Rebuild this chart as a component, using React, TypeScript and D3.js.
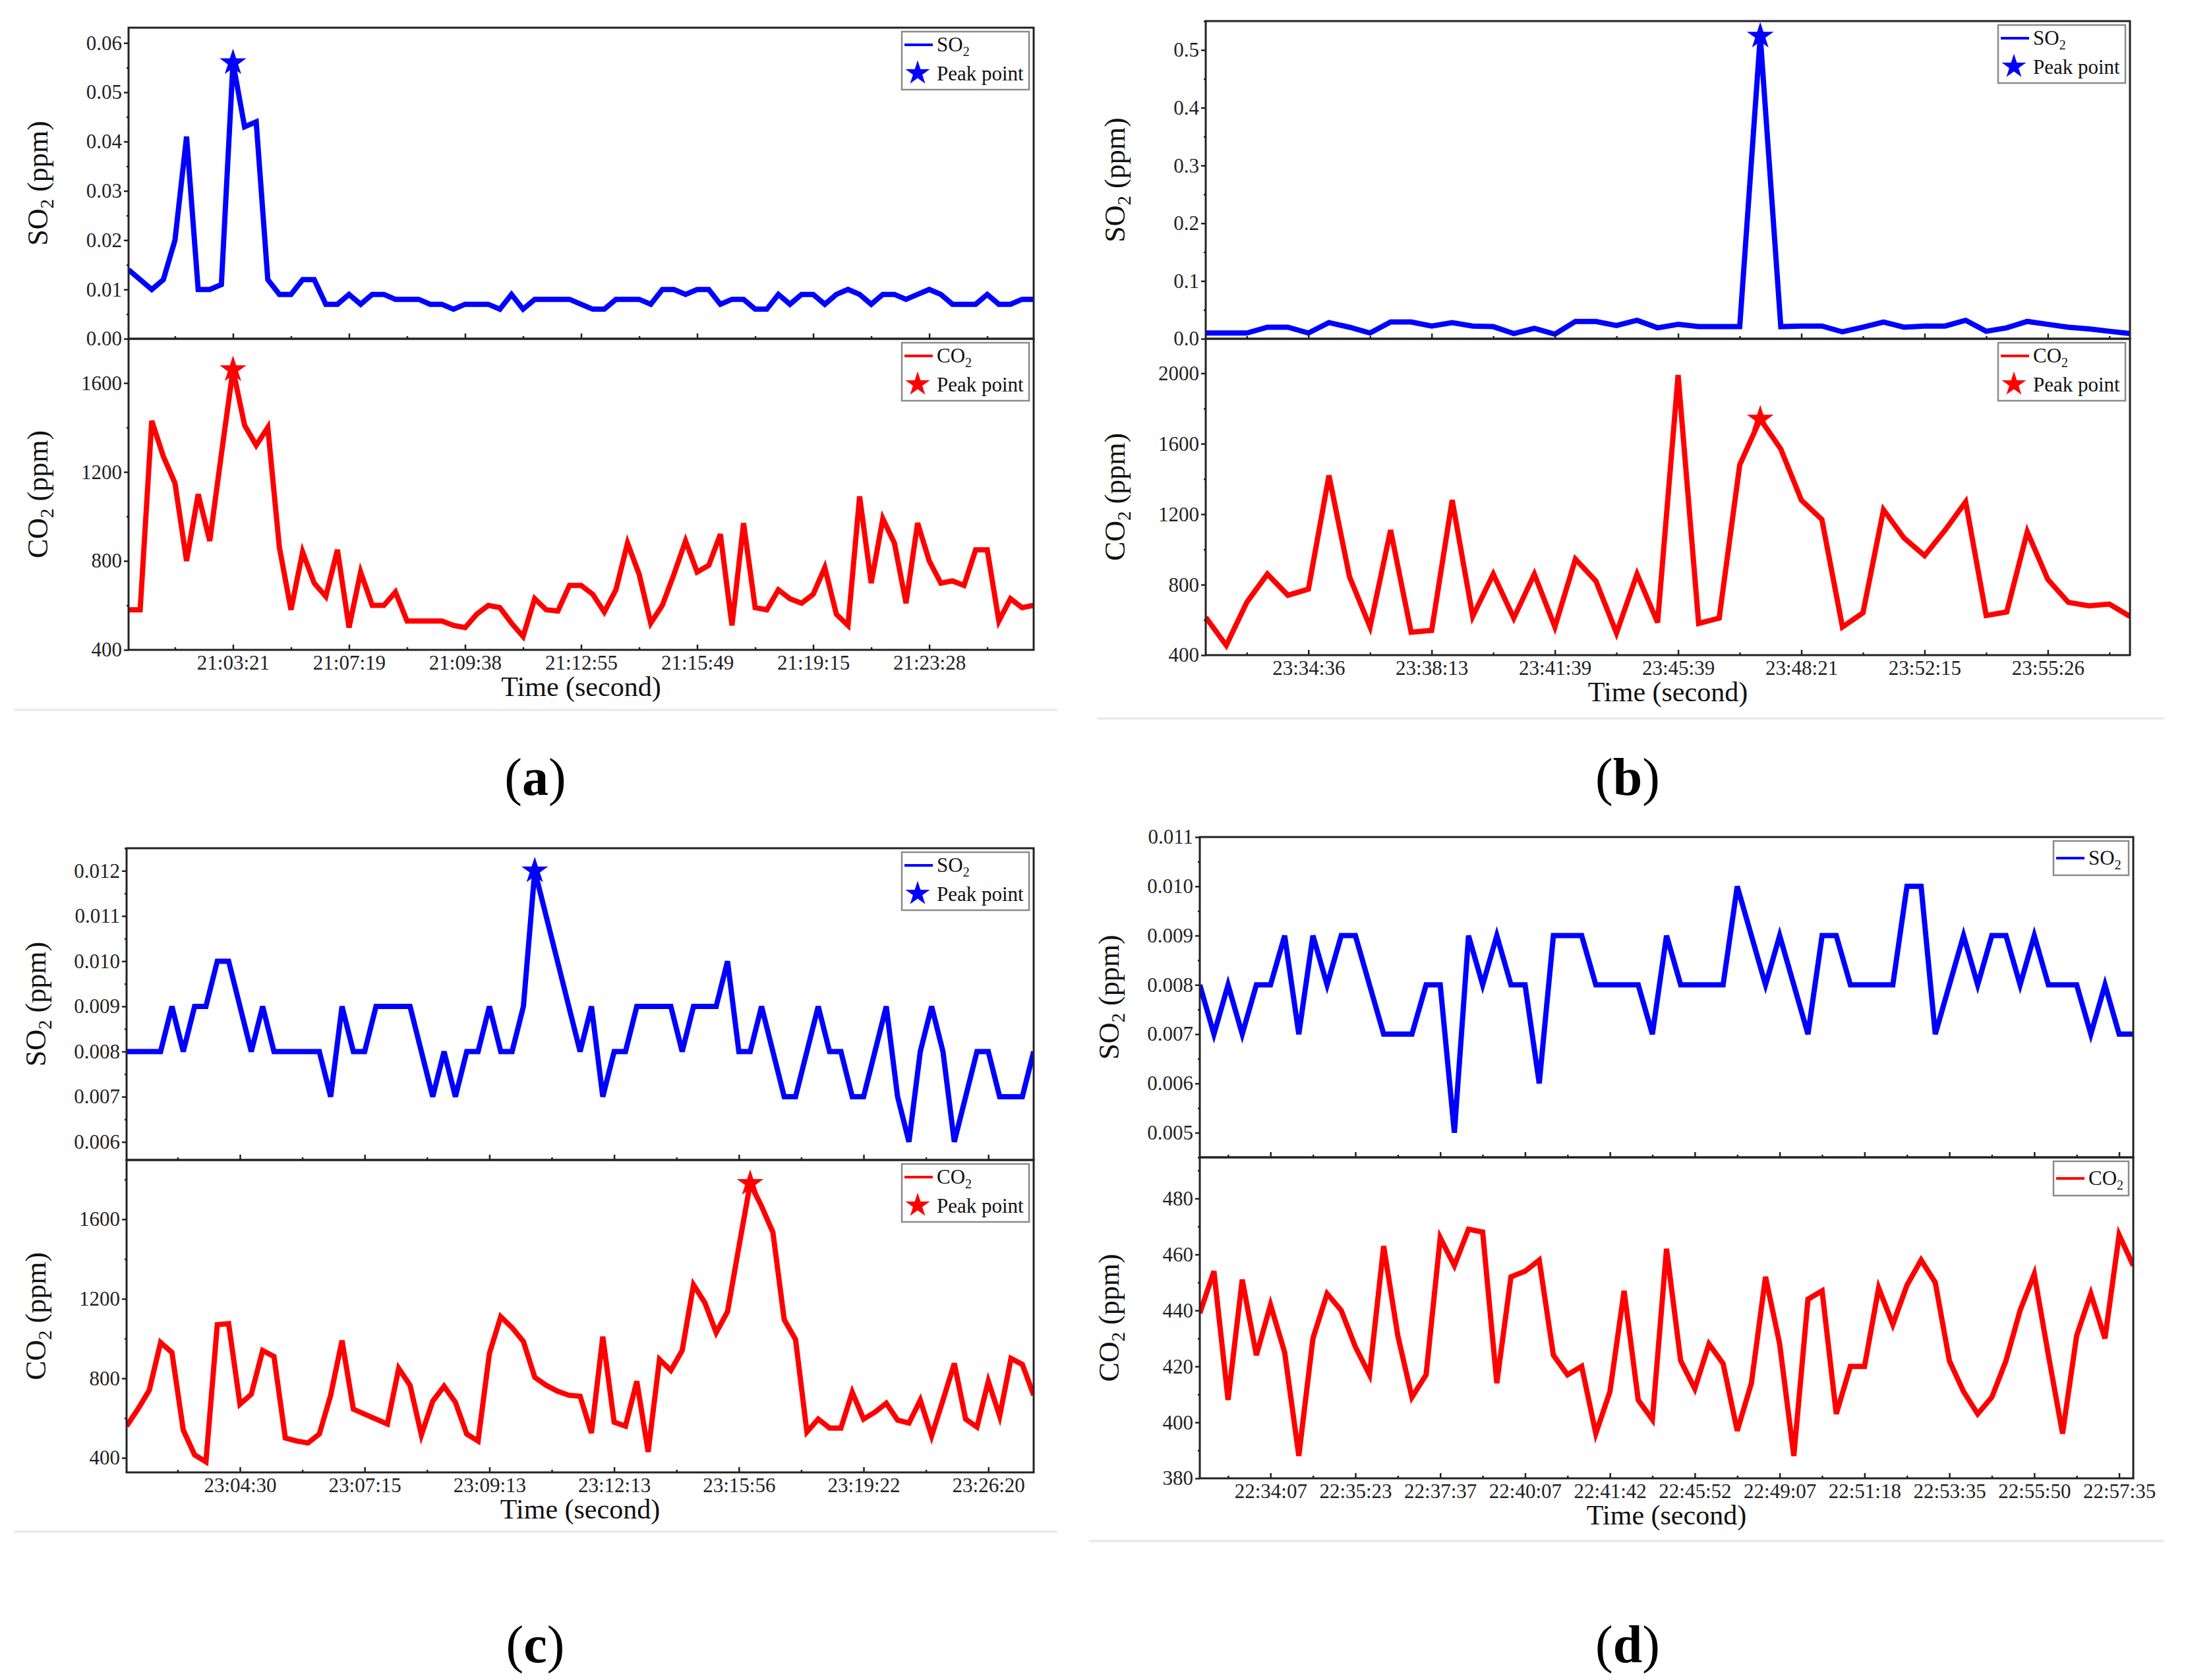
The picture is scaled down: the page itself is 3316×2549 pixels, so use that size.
import { useEffect, useRef } from 'react';
import * as d3 from 'd3';

const W = 3316;
const H = 2549;
const SERIF = '"Liberation Serif", "Times New Roman", Times, serif';
const BLUE = '#0000ff';
const RED = '#ff0000';
const INK = '#222';

// ---- panel (a) ----
const timesA = ['21:03:21', '21:07:19', '21:09:38', '21:12:55', '21:15:49', '21:19:15', '21:23:28'];
const so2A = [
  0.014, 0.012, 0.010, 0.012, 0.020, 0.041, 0.010, 0.010, 0.011, 0.056,
  0.043, 0.044, 0.012, 0.009, 0.009, 0.012, 0.012, 0.007, 0.007, 0.009,
  0.007, 0.009, 0.009, 0.008, 0.008, 0.008, 0.007, 0.007, 0.006, 0.007,
  0.007, 0.007, 0.006, 0.009, 0.006, 0.008, 0.008, 0.008, 0.008, 0.007,
  0.006, 0.006, 0.008, 0.008, 0.008, 0.007, 0.010, 0.010, 0.009, 0.010,
  0.010, 0.007, 0.008, 0.008, 0.006, 0.006, 0.009, 0.007, 0.009, 0.009,
  0.007, 0.009, 0.010, 0.009, 0.007, 0.009, 0.009, 0.008, 0.009, 0.010,
  0.009, 0.007, 0.007, 0.007, 0.009, 0.007, 0.007, 0.008, 0.008,
];
const co2A = [
  580, 580, 1430, 1270, 1150, 800, 1100, 890, 1280, 1660,
  1410, 1320, 1400, 860, 580, 840, 700, 640, 850, 500,
  750, 600, 600, 660, 530, 530, 530, 530, 510, 500,
  560, 600, 590, 520, 460, 630, 580, 575, 690, 690,
  650, 570, 670, 880, 740, 520, 600, 740, 890, 750,
  780, 920, 510, 970, 590, 580, 670, 630, 610, 650,
  770, 560, 510, 1090, 700, 990, 880, 610, 970, 800,
  700, 710, 690, 850, 850, 530, 630, 590, 600,
];
const so2TicksA = [0, 0.01, 0.02, 0.03, 0.04, 0.05, 0.06];
const co2TicksA = [400, 800, 1200, 1600];

// ---- panel (b) ----
const timesB = ['23:34:36', '23:38:13', '23:41:39', '23:45:39', '23:48:21', '23:52:15', '23:55:26'];
const so2B = [
  0.010, 0.010, 0.010, 0.020, 0.020, 0.010, 0.028, 0.020, 0.010, 0.029,
  0.029, 0.022, 0.028, 0.022, 0.021, 0.009, 0.018, 0.008, 0.030, 0.030,
  0.023, 0.032, 0.019, 0.025, 0.021, 0.021, 0.021, 0.524, 0.021, 0.022,
  0.022, 0.012, 0.020, 0.029, 0.020, 0.022, 0.022, 0.032, 0.013, 0.019,
  0.030, 0.025, 0.020, 0.017, 0.013, 0.009,
];
const co2B = [
  615, 455, 700, 860, 740, 775, 1420, 845, 560, 1110,
  530, 540, 1280, 620, 860, 610, 860, 560, 945, 820,
  525, 860, 585, 1990, 580, 610, 1480, 1740, 1570, 1280,
  1170, 560, 640, 1225, 1065, 965, 1110, 1270, 625, 645,
  1100, 830, 700, 680, 690, 620,
];
const so2TicksB = [0, 0.1, 0.2, 0.3, 0.4, 0.5];
const co2TicksB = [400, 800, 1200, 1600, 2000];

// ---- panel (c) ----
const timesC = ['23:04:30', '23:07:15', '23:09:13', '23:12:13', '23:15:56', '23:19:22', '23:26:20'];
const so2C = [
  0.008, 0.008, 0.008, 0.008, 0.009, 0.008, 0.009, 0.009, 0.010, 0.010,
  0.009, 0.008, 0.009, 0.008, 0.008, 0.008, 0.008, 0.008, 0.007, 0.009,
  0.008, 0.008, 0.009, 0.009, 0.009, 0.009, 0.008, 0.007, 0.008, 0.007,
  0.008, 0.008, 0.009, 0.008, 0.008, 0.009, 0.012, 0.011, 0.010, 0.009,
  0.008, 0.009, 0.007, 0.008, 0.008, 0.009, 0.009, 0.009, 0.009, 0.008,
  0.009, 0.009, 0.009, 0.010, 0.008, 0.008, 0.009, 0.008, 0.007, 0.007,
  0.008, 0.009, 0.008, 0.008, 0.007, 0.007, 0.008, 0.009, 0.007, 0.006,
  0.008, 0.009, 0.008, 0.006, 0.007, 0.008, 0.008, 0.007, 0.007, 0.007,
  0.008,
];
const co2C = [
  560, 645, 740, 980, 930, 540, 415, 380, 1070, 1075,
  670, 720, 940, 910, 500, 485, 475, 520, 715, 990,
  645, 620, 595, 570, 850, 765, 515, 685, 760, 680,
  520, 485, 925, 1110, 1055, 985, 805, 765, 735, 715,
  710, 525, 1010, 580, 560, 785, 430, 895, 840, 940,
  1270, 1180, 1030, 1135, 1460, 1780, 1665, 1535, 1095, 995,
  530, 595, 550, 550, 730, 595, 630, 675, 590, 575,
  690, 510, 690, 875, 595, 555, 785, 610, 900, 870,
  715,
];
const so2TicksC = [0.006, 0.007, 0.008, 0.009, 0.01, 0.011, 0.012];
const co2TicksC = [400, 800, 1200, 1600];

// ---- panel (d) ----
const timesD = [
  '22:34:07', '22:35:23', '22:37:37', '22:40:07', '22:41:42', '22:45:52',
  '22:49:07', '22:51:18', '22:53:35', '22:55:50', '22:57:35',
];
const so2D = [
  0.008, 0.007, 0.008, 0.007, 0.008, 0.008, 0.009, 0.007, 0.009, 0.008,
  0.009, 0.009, 0.008, 0.007, 0.007, 0.007, 0.008, 0.008, 0.005, 0.009,
  0.008, 0.009, 0.008, 0.008, 0.006, 0.009, 0.009, 0.009, 0.008, 0.008,
  0.008, 0.008, 0.007, 0.009, 0.008, 0.008, 0.008, 0.008, 0.010, 0.009,
  0.008, 0.009, 0.008, 0.007, 0.009, 0.009, 0.008, 0.008, 0.008, 0.008,
  0.010, 0.010, 0.007, 0.008, 0.009, 0.008, 0.009, 0.009, 0.008, 0.009,
  0.008, 0.008, 0.008, 0.007, 0.008, 0.007, 0.007,
];
const co2D = [
  439, 454, 408, 451, 424, 442, 425, 388, 430, 446,
  440, 427, 417, 463, 431, 409, 417, 466, 456, 469,
  468, 414, 452, 454, 458, 424, 417, 420, 396, 411,
  447, 408, 401, 462, 422, 412, 428, 421, 397, 414,
  452, 428, 388, 444, 447, 403, 420, 420, 448, 435,
  449, 458, 450, 422, 411, 403, 409, 422, 440, 453,
  424, 396, 431, 446, 430, 467, 456,
];
const so2TicksD = [0.005, 0.006, 0.007, 0.008, 0.009, 0.01, 0.011];
const co2TicksD = [380, 400, 420, 440, 460, 480];

interface Panel {
  tag: string;
  times: string[];
  firstTick: number;
  tickStep: number;
  so2: number[];
  co2: number[];
  so2Domain: [number, number];
  co2Domain: [number, number];
  so2Ticks: number[];
  co2Ticks: number[];
  so2Minor: number;
  co2Minor: number;
  so2Fmt: string;
  so2Peak: number | null;
  co2Peak: number | null;
  box: { left: number; right: number; top: number; mid: number; bottom: number };
  tagX: number;
  tagY: number;
  sep: [number, number, number];
}

const PANELS: Panel[] = [
  {
    tag: 'a', times: timesA, firstTick: 9, tickStep: 10, so2: so2A, co2: co2A,
    so2Domain: [0, 0.0631], co2Domain: [400, 1799],
    so2Ticks: so2TicksA, co2Ticks: co2TicksA, so2Minor: 0.005, co2Minor: 200, so2Fmt: '.2f',
    so2Peak: 9, co2Peak: 9,
    box: { left: 195, right: 1568, top: 42, mid: 514, bottom: 986 },
    tagX: 812, tagY: 1206, sep: [21, 1604, 1077],
  },
  {
    tag: 'b', times: timesB, firstTick: 5, tickStep: 6, so2: so2B, co2: co2B,
    so2Domain: [0, 0.55], co2Domain: [400, 2196],
    so2Ticks: so2TicksB, co2Ticks: co2TicksB, so2Minor: 0.05, co2Minor: 200, so2Fmt: '.1f',
    so2Peak: 27, co2Peak: 27,
    box: { left: 1829, right: 3231, top: 32, mid: 514, bottom: 994 },
    tagX: 2469, tagY: 1206, sep: [1664, 3283, 1090],
  },
  {
    tag: 'c', times: timesC, firstTick: 10, tickStep: 11, so2: so2C, co2: co2C,
    so2Domain: [0.0056, 0.0125], co2Domain: [327, 1898],
    so2Ticks: so2TicksC, co2Ticks: co2TicksC, so2Minor: 0.0005, co2Minor: 200, so2Fmt: '.3f',
    so2Peak: 36, co2Peak: 55,
    box: { left: 192, right: 1568, top: 1287, mid: 1760, bottom: 2234 },
    tagX: 812, tagY: 2522, sep: [21, 1604, 2324],
  },
  {
    tag: 'd', times: timesD, firstTick: 5, tickStep: 6, so2: so2D, co2: co2D,
    so2Domain: [0.0045, 0.011], co2Domain: [380, 494.7],
    so2Ticks: so2TicksD, co2Ticks: co2TicksD, so2Minor: 0.0005, co2Minor: 10, so2Fmt: '.3f',
    so2Peak: null, co2Peak: null,
    box: { left: 1820, right: 3236, top: 1270, mid: 1756, bottom: 2243 },
    tagX: 2469, tagY: 2522, sep: [1652, 3283, 2338],
  },
];

function minorValues(domain: [number, number], majors: number[], step: number) {
  const ks = d3.range(Math.ceil(domain[0] / step - 1e-9), Math.floor(domain[1] / step + 1e-9) + 1);
  return ks
    .map((k) => k * step)
    .filter((v) => !majors.some((m) => Math.abs(m - v) < step / 10));
}

function styleAxis(g: any, size: number) {
  g.select('.domain').remove();
  g.attr('font-family', SERIF).attr('font-size', size).attr('color', INK);
  g.selectAll('line').attr('stroke-width', 2.5);
  g.selectAll('text').attr('fill', INK);
}

function drawPanel(root: any, p: Panel) {
  const { left, right, top, mid, bottom } = p.box;
  const n = p.so2.length;
  const x = d3.scaleLinear().domain([0, n - 1]).range([left, right]);
  const majorX = p.times.map((_, i) => p.firstTick + i * p.tickStep);
  const minorX = d3.range(p.firstTick - p.tickStep / 2, n - 1 + 1e-6, p.tickStep);
  const labelOf = new Map(majorX.map((v, i) => [v, p.times[i]]));

  root.append('line')
    .attr('x1', p.sep[0]).attr('x2', p.sep[1])
    .attr('y1', p.sep[2]).attr('y2', p.sep[2])
    .attr('stroke', '#ececec').attr('stroke-width', 4);

  const subs = [
    {
      key: 'so2', values: p.so2, domain: p.so2Domain, y0: mid, y1: top, color: BLUE,
      ticks: p.so2Ticks, minor: p.so2Minor, fmt: p.so2Fmt, peak: p.so2Peak, name: 'SO', labels: false,
    },
    {
      key: 'co2', values: p.co2, domain: p.co2Domain, y0: bottom, y1: mid, color: RED,
      ticks: p.co2Ticks, minor: p.co2Minor, fmt: 'd', peak: p.co2Peak, name: 'CO', labels: true,
    },
  ];

  subs.forEach((s) => {
    const y = d3.scaleLinear().domain(s.domain).range([s.y0, s.y1]);
    const clipId = `clip-${p.tag}-${s.key}`;
    root.append('clipPath').attr('id', clipId)
      .append('rect')
      .attr('x', left).attr('y', s.y1)
      .attr('width', right - left).attr('height', s.y0 - s.y1);

    const line = d3.line<number>().x((_, i) => x(i)).y((d) => y(d));
    root.append('path')
      .datum(s.values)
      .attr('clip-path', `url(#${clipId})`)
      .attr('d', line)
      .attr('fill', 'none')
      .attr('stroke', s.color)
      .attr('stroke-width', 8)
      .attr('stroke-linejoin', 'miter');

    if (s.peak !== null) {
      root.append('path')
        .attr('d', d3.symbol(d3.symbolStar, 510)())
        .attr('transform', `translate(${x(s.peak)},${y(s.values[s.peak])})`)
        .attr('fill', s.color);
    }

    // x ticks, pointing into the plot
    const gx = root.append('g')
      .attr('transform', `translate(0,${s.y0})`)
      .call(
        d3.axisBottom(x)
          .tickValues(majorX)
          .tickSize(-8)
          .tickPadding(8)
          .tickFormat((d: any) => (s.labels ? labelOf.get(+d) ?? '' : '')),
      );
    styleAxis(gx, 31);
    const gxm = root.append('g')
      .attr('transform', `translate(0,${s.y0})`)
      .call(d3.axisBottom(x).tickValues(minorX).tickSize(-4).tickFormat(() => ''));
    styleAxis(gxm, 31);

    // y ticks
    const gy = root.append('g')
      .attr('transform', `translate(${left},0)`)
      .call(d3.axisLeft(y).tickValues(s.ticks).tickSize(7).tickPadding(3).tickFormat(d3.format(s.fmt)));
    styleAxis(gy, 31);
    const gym = root.append('g')
      .attr('transform', `translate(${left},0)`)
      .call(d3.axisLeft(y).tickValues(minorValues(s.domain, s.ticks, s.minor)).tickSize(3).tickFormat(() => ''));
    styleAxis(gym, 31);

    root.append('rect')
      .attr('x', left).attr('y', s.y1)
      .attr('width', right - left).attr('height', s.y0 - s.y1)
      .attr('fill', 'none').attr('stroke', INK).attr('stroke-width', 3);

    // y title
    const cy = (s.y0 + s.y1) / 2;
    const yt = root.append('text')
      .attr('transform', `translate(${left - 123},${cy}) rotate(-90)`)
      .attr('text-anchor', 'middle')
      .attr('font-family', SERIF)
      .attr('font-size', 44)
      .attr('fill', '#111');
    yt.append('tspan').text(s.name);
    yt.append('tspan').attr('font-size', 29).attr('dy', 9).text('2');
    yt.append('tspan').attr('dy', -9).text(' (ppm)');

    // legend
    const hasPeak = s.peak !== null;
    const bw = hasPeak ? 193 : 114;
    const bh = hasPeak ? 88 : 52;
    const bx = right - 7 - bw;
    const by = s.y1 + 6;
    root.append('rect')
      .attr('x', bx).attr('y', by).attr('width', bw).attr('height', bh)
      .attr('fill', '#fff').attr('stroke', '#8a8a8a').attr('stroke-width', 2.5);
    const ly = hasPeak ? by + 20 : by + bh / 2;
    root.append('line')
      .attr('x1', bx + 4).attr('x2', bx + 47)
      .attr('y1', ly).attr('y2', ly)
      .attr('stroke', s.color).attr('stroke-width', 4);
    const lt = root.append('text')
      .attr('x', bx + 53).attr('y', ly + 10)
      .attr('font-family', SERIF).attr('font-size', 31).attr('fill', '#111');
    lt.append('tspan').text(s.name);
    lt.append('tspan').attr('font-size', 20).attr('dy', 7).text('2');
    if (hasPeak) {
      root.append('path')
        .attr('d', d3.symbol(d3.symbolStar, 427)())
        .attr('transform', `translate(${bx + 24},${by + 63})`)
        .attr('fill', s.color);
      root.append('text')
        .attr('x', bx + 53).attr('y', by + 74)
        .attr('font-family', SERIF).attr('font-size', 31).attr('fill', '#111')
        .text('Peak point');
    }
  });

  root.append('text')
    .attr('x', (left + right) / 2)
    .attr('y', bottom + 70)
    .attr('text-anchor', 'middle')
    .attr('font-family', SERIF)
    .attr('font-size', 42)
    .attr('fill', '#111')
    .text('Time (second)');

  const tag = root.append('text')
    .attr('x', p.tagX)
    .attr('y', p.tagY)
    .attr('text-anchor', 'middle')
    .attr('font-family', SERIF)
    .attr('font-size', 80)
    .attr('fill', '#000');
  tag.append('tspan').text('(');
  tag.append('tspan').attr('font-weight', 'bold').text(p.tag);
  tag.append('tspan').text(')');
}

export default function App() {
  const svgRef = useRef<SVGSVGElement>(null);

  useEffect(() => {
    const el = svgRef.current;
    if (!el) return;
    const svg = d3.select(el);
    svg.selectAll('*').remove();
    svg.append('rect').attr('width', W).attr('height', H).attr('fill', '#fff');
    PANELS.forEach((p) => drawPanel(svg.append('g'), p));
  }, []);

  return (
    <div style={{ position: 'absolute', left: 0, top: 0 }}>
      <svg ref={svgRef} width={W} height={H} style={{ display: 'block' }} />
    </div>
  );
}
